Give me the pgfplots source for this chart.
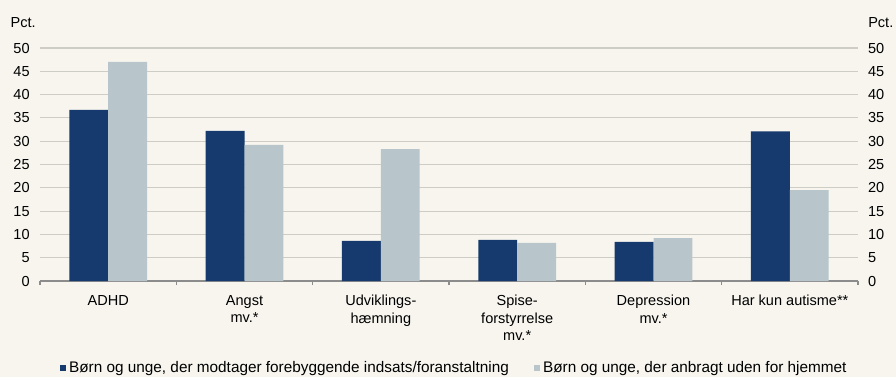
\documentclass[border=0pt]{standalone}
\usepackage{pgfplots}
\pgfplotsset{compat=1.18}
\usepackage{fontspec}
\setmainfont{Liberation Sans}
\definecolor{bg}{HTML}{F7F5EE}
\definecolor{dblue}{HTML}{163A6E}
\definecolor{lblue}{HTML}{B8C6CC}
\definecolor{gridc}{HTML}{CDCDC6}
\definecolor{axc}{HTML}{8C8C8C}
\begin{document}
\begin{tikzpicture}[font=\fontsize{10.9}{12.9}\selectfont]
\fill[bg] (-30pt,-72pt) rectangle (642pt,210.75pt);
\pgfplotsset{common/.style={
  width=613.5pt, height=174.75pt, scale only axis,
  at={(0,0)}, anchor=south west,
  xmin=0.5, xmax=6.5, ymin=0, ymax=50,
  ytick={0,5,...,50},
  /pgf/number format/assume math mode=true,
  ytick style={draw=none},
}}
\begin{axis}[common,
  axis x line*=bottom, axis y line*=left,
  y axis line style={draw=none},
  x axis line style={draw=axc, line width=0.8pt},
  ymajorgrids, major grid style={draw=gridc, line width=0.8pt},
  xtick={1,...,6},
  xticklabels={ADHD, Angst\\mv.*, Udviklings-\\hæmning, Spise-\\forstyrrelse\\mv.*, Depression\\mv.*, Har kun autisme**},
  xticklabel style={align=center, yshift=-3pt, text depth=0pt},
  major x tick style={draw=none},
  minor xtick={0.5,1.5,...,6.5},
  minor x tick style={draw=axc, line width=0.8pt},
  minor tick length=3pt,
  tick align=outside,
  yticklabel style={xshift=0pt},
  legend columns=2,
  legend style={at={(0.507,-0.375)}, anchor=center, draw=none, fill=none,
    /tikz/every even column/.append style={column sep=17pt},
    font=\fontsize{11.5}{13.5}\selectfont},
  legend image code/.code={\fill[#1] (0pt,-2.3pt) rectangle (4.6pt,2.3pt);},
  clip=false,
]
\addplot[ybar, bar width=0.285, bar shift=-0.1425, fill=dblue, draw=none]
  coordinates {(1,36.7) (2,32.2) (3,8.6) (4,8.8) (5,8.4) (6,32.1)};
\addlegendentry{Børn og unge, der modtager forebyggende indsats/foranstaltning}
\addplot[ybar, bar width=0.285, bar shift=0.1425, fill=lblue, draw=none]
  coordinates {(1,47.0) (2,29.2) (3,28.3) (4,8.2) (5,9.2) (6,19.5)};
\addlegendentry{Børn og unge, der anbragt uden for hjemmet}
\node[anchor=base east, inner sep=0pt] at ([xshift=-3pt, yshift=15.5pt]rel axis cs:0,1) {Pct.};
\node[anchor=base west, inner sep=0pt] at ([xshift=7.5pt, yshift=15.5pt]rel axis cs:1,1) {Pct.};
\end{axis}
\begin{axis}[common,
  axis x line=none, axis y line*=right,
  y axis line style={draw=none},
  yticklabel style={xshift=4pt},
]
\addplot[draw=none] coordinates {(1,0)};
\end{axis}
\end{tikzpicture}
\end{document}
